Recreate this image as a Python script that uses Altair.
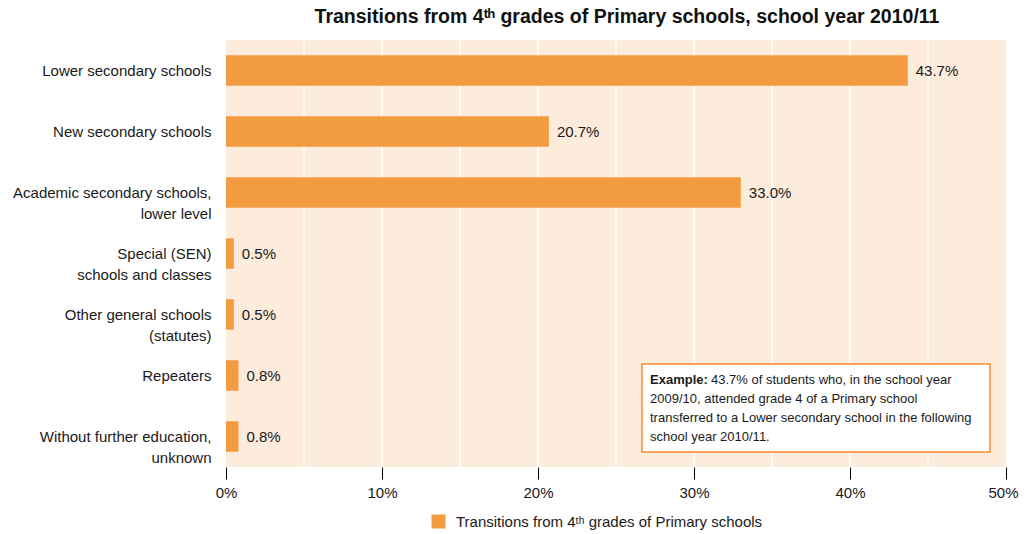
import altair as alt
import pandas as pd

categories = [
    "Lower secondary schools",
    "New secondary schools",
    "Academic secondary schools,|lower level",
    "Special (SEN) |schools and classes",
    "Other general schools|(statutes)",
    "Repeaters",
    "Without further education,|unknown",
]
values = [43.7, 20.7, 33.0, 0.5, 0.5, 0.8, 0.8]
value_labels = ["43.7%", "20.7%", "33.0%", "0.5%", "0.5%", "0.8%", "0.8%"]
series_name = "Transitions from 4ᵗʰ grades of Primary schools"
grid_values = [5, 10, 15, 20, 25, 30, 35, 40, 45]
x_ticks = [0, 10, 20, 30, 40, 50]

example_bold = "Example:"
example_line1 = "43.7% of students who, in the school year"
example_rest = [
    "2009/10, attended grade 4 of a Primary school",
    "transferred to a Lower secondary school in the following",
    "school year 2010/11.",
]

FONT = "Liberation Sans"
ORANGE = "#F39B40"
BG = "#FDEBDC"
TXT = "#1a1a1a"

df = pd.DataFrame({"cat": categories, "val": values, "lab": value_labels,
                   "series": [series_name] * len(categories)})
grid_df = pd.DataFrame({"g": grid_values})

xscale = alt.Scale(domain=[0, 50], nice=False)
yscale = alt.Scale(domain=categories, paddingInner=0.5, paddingOuter=0.25)

grid = alt.Chart(grid_df).mark_rule(color="white", strokeWidth=1.5).encode(
    x=alt.X("g:Q", scale=xscale, title=None,
            axis=alt.Axis(values=x_ticks, format=".0f", labelExpr="datum.value + '%'",
                          grid=False, domain=False, tickColor="black", tickSize=12,
                          tickWidth=1, labelFont=FONT, labelFontSize=15,
                          labelColor=TXT, labelPadding=6, labelFlush=False,
                          labelOffset={"condition": {"test": "datum.value == 50", "value": -3},
                                       "value": 0})),
)

bars = alt.Chart(df).mark_bar(color=ORANGE).encode(
    x=alt.X("val:Q", scale=xscale),
    y=alt.Y("cat:N", scale=yscale, sort=categories, title=None,
            axis=alt.Axis(labelExpr="split(datum.label, '|')", ticks=False, domain=False,
                          labelFont=FONT, labelFontSize=15, labelColor=TXT,
                          labelPadding=15, labelLineHeight=21, labelLimit=300)),
    color=alt.Color("series:N", scale=alt.Scale(range=[ORANGE]), title=None,
                    legend=alt.Legend(orient="none", legendX=205, legendY=474,
                                      symbolType="square", symbolSize=196,
                                      symbolStrokeWidth=0, symbolOpacity=1,
                                      labelFont=FONT, labelFontSize=15,
                                      labelColor=TXT, labelLimit=500,
                                      labelOffset=10)),
)

labels = alt.Chart(df).mark_text(align="left", baseline="middle", dx=8, font=FONT,
                                 fontSize=15, color=TXT).encode(
    x=alt.X("val:Q", scale=xscale),
    y=alt.Y("cat:N", scale=yscale, sort=categories),
    text="lab:N",
)

one = df.head(1)
box = alt.Chart(one).mark_rect(fill="white", stroke="#F08A2C", strokeWidth=1.5).encode(
    x=alt.value(416), x2=alt.value(764), y=alt.value(324), y2=alt.value(412),
)
ex_bold = alt.Chart(one).mark_text(align="left", baseline="middle", font=FONT,
                                   fontSize=13, fontWeight="bold", color=TXT).encode(
    x=alt.value(424), y=alt.value(340), text=alt.value(example_bold))
ex_l1 = alt.Chart(one).mark_text(align="left", baseline="middle", font=FONT,
                                 fontSize=13, color=TXT).encode(
    x=alt.value(485), y=alt.value(340), text=alt.value(example_line1))
ex_rest = alt.Chart(one).mark_text(align="left", baseline="middle", font=FONT,
                                   fontSize=13, color=TXT, lineHeight=19).encode(
    x=alt.value(424), y=alt.value(359), text=alt.value(example_rest))

chart = alt.layer(grid, bars, labels, box, ex_bold, ex_l1, ex_rest).properties(
    width=780, height=427,
    autosize=alt.AutoSizeParams(type="none"),
    padding={"left": 218, "top": 32, "right": 14, "bottom": 66},
    title=alt.TitleParams("Transitions from 4ᵗʰ grades of Primary schools, school year 2010/11",
                          font=FONT, fontSize=19.5, fontWeight="bold", color="#111111",
                          anchor="middle", offset=12, dx=11),
).configure_view(fill=BG, stroke=None)

chart.save("out.html", embed_options={"renderer": "svg", "actions": False})
